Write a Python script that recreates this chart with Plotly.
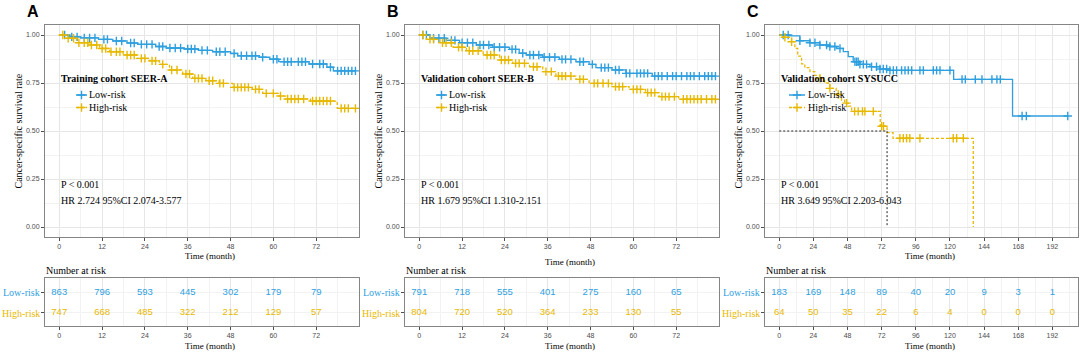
import numpy as np
import plotly.graph_objects as go

W, H = 1084, 353
BLUE = "#2E9FDF"
YELLOW = "#E7B800"
SERIF = "Liberation Serif, Times New Roman, serif"
SANS = "Liberation Sans, Arial, sans-serif"
GRID = "#E6E6E6"
MINOR = "#F2F2F2"
BORDER = "#858585"
TICKC = "#4D4D4D"

# ---------------- data ----------------
panel_letters = ["A", "B", "C"]
cohort_titles = ["Training cohort SEER-A", "Validation cohort SEER-B", "Validation cohort SYSUCC"]
hr_texts = ["HR 2.724 95%CI 2.074-3.577", "HR 1.679 95%CI 1.310-2.151", "HR 3.649 95%CI 2.203-6.043"]
p_texts = ["P < 0.001", "P < 0.001", "P < 0.001"]
group_names = ["Low-risk", "High-risk"]

# Panel A
a_low_t = [0, 3, 6, 11, 15, 19, 22, 27, 30, 35, 39, 43, 48, 50, 56, 59, 61.5, 70, 75, 76.8]
a_low_s = [1.0, 0.99, 0.985, 0.977, 0.969, 0.958, 0.951, 0.94, 0.932, 0.927, 0.92, 0.913, 0.904,
           0.892, 0.884, 0.874, 0.861, 0.849, 0.832, 0.813]
a_low_end = 83.2
a_low_cens = [1.5, 3.5, 5, 7, 8.5, 10, 12.5, 13.5, 16, 17.5, 20, 21, 23, 24.5, 26, 28, 29, 31, 32.5, 34,
              36, 37, 38, 40, 41.5, 44, 45, 46.5, 49, 51, 52.5, 54, 55, 57, 60, 61, 63, 64, 65, 67, 68,
              69, 71, 73, 74, 76, 78, 79, 80, 81, 82, 83]
a_high_t = [0, 2, 4.8, 8.6, 11.3, 14.1, 17.9, 21.6, 25.3, 28.1, 30.9, 34.6, 37.4, 41.1, 44.8, 48.6,
            54.1, 57, 61.6, 63.5, 70.4, 77.9]
a_high_s = [1.0, 0.983, 0.96, 0.948, 0.93, 0.913, 0.896, 0.878, 0.865, 0.847, 0.818, 0.797, 0.774,
            0.762, 0.748, 0.727, 0.717, 0.696, 0.682, 0.667, 0.656, 0.618]
a_high_end = 83.2
a_high_cens = [1, 2.5, 4, 5.5, 7, 8, 9, 10.5, 12, 13, 14.5, 16, 17, 19, 20, 21, 23, 24, 26, 27, 29,
               31.5, 33, 35.5, 36.5, 38, 39, 40, 42, 43, 45, 46, 49, 50, 51, 52, 53, 55, 56, 58, 60,
               62, 64, 65, 66, 67, 68.5, 71, 72, 73, 74, 75, 76, 79, 80, 81, 83]
a_low_risk = [863, 796, 593, 445, 302, 179, 79]
a_high_risk = [747, 668, 485, 322, 212, 129, 57]
a_ticks = [0, 12, 24, 36, 48, 60, 72]

# Panel B
b_low_t = [0, 3, 7.6, 11.3, 16, 20.6, 25.3, 28, 30, 34.6, 39.3, 43.9, 47.6, 49.5, 54, 57.9, 65.3]
b_low_s = [1.0, 0.983, 0.972, 0.96, 0.948, 0.936, 0.925, 0.905, 0.896, 0.884, 0.873, 0.861, 0.847,
           0.83, 0.818, 0.80, 0.786]
b_low_end = 83.2
b_low_cens = [1, 2, 4, 5.5, 7, 9, 10, 12, 13.5, 15, 17, 18, 19.5, 21, 22.5, 24, 26, 27, 29, 31, 32,
              33.5, 35, 36.5, 38, 40, 41, 42.5, 45, 46, 48.5, 51, 52, 53, 55, 56, 58, 59, 61, 62, 63,
              64, 66, 67, 68, 69.5, 71, 72, 73.5, 75, 76, 77, 78.5, 80, 81, 82, 83]
b_high_t = [0, 2, 5.8, 9.5, 13.2, 17.9, 22.5, 26.2, 30.9, 34.6, 38.3, 43.9, 47.6, 54, 58.8, 63.4,
            67.2, 72.7]
b_high_s = [1.0, 0.977, 0.96, 0.936, 0.918, 0.896, 0.87, 0.852, 0.835, 0.809, 0.786, 0.769, 0.748,
            0.731, 0.717, 0.70, 0.679, 0.665]
b_high_end = 83.2
b_high_cens = [1, 3, 4, 6.5, 7.5, 9, 11, 12, 14, 15, 16.5, 19, 20, 21, 23, 24, 25, 27, 28, 29.5, 32,
               33, 35.5, 37, 39, 40, 41, 42.5, 45, 46, 49, 50, 51.5, 53, 55, 56, 57, 60, 61, 62, 64,
               65, 66, 68, 69, 70, 71.5, 74, 75, 76, 77, 78, 79, 80.5, 82, 83]
b_low_risk = [791, 718, 555, 401, 275, 160, 65]
b_high_risk = [804, 720, 520, 364, 233, 130, 55]
b_ticks = [0, 12, 24, 36, 48, 60, 72]

# Panel C
c_low_t = [0, 7.5, 14.5, 21.6, 28.6, 35.6, 40.3, 45, 48.5, 52, 56.7, 63.75, 70.8, 77.8, 122.6, 164]
c_low_s = [1.0, 0.995, 0.97, 0.96, 0.948, 0.94, 0.93, 0.913, 0.887, 0.861, 0.847, 0.835, 0.823,
           0.816, 0.769, 0.578]
c_low_end = 202.8
c_low_cens = [2.8, 6.3, 14.5, 21.6, 25.1, 28.6, 33.3, 35.6, 39.1, 42.7, 53.2, 54.4, 55.5, 56.7, 59.1,
              61.4, 64.9, 68.4, 70.8, 73.1, 75.5, 77.8, 80.2, 82.5, 86, 88.4, 90.7, 93.1, 98.9, 101.3,
              108.3, 110.6, 113, 120, 128.5, 130.8, 137.8, 142.5, 149.5, 153, 155.4, 170.7, 173.7,
              202.8]
c_high_t = [0, 2.8, 8.7, 11, 13, 15.7, 18, 21.6, 25, 28.6, 32, 35.6, 40, 43.8, 46, 48.5, 50.9, 71,
            75.8, 80, 136.4]
c_high_s = [1.0, 0.988, 0.965, 0.93, 0.89, 0.85, 0.83, 0.809, 0.79, 0.774, 0.75, 0.722, 0.69, 0.661,
            0.645, 0.63, 0.602, 0.525, 0.492, 0.462, 0.0]
c_high_end = 136.4
c_high_cens = [4, 8.7, 28.6, 35.6, 41.5, 47.3, 53, 55.5, 58.5, 60.2, 66.1, 72, 73.3, 84.8, 87.2,
               89.5, 91.8, 98.9, 122.3, 124.7, 129.4]
c_low_risk = [183, 169, 148, 89, 40, 20, 9, 3, 1]
c_high_risk = [64, 50, 35, 22, 6, 4, 0, 0, 0]
c_ticks = [0, 24, 48, 72, 96, 120, 144, 168, 192]

panels = [
    dict(low=(a_low_t, a_low_s, a_low_end, a_low_cens), high=(a_high_t, a_high_s, a_high_end, a_high_cens),
         risk=(a_low_risk, a_high_risk), ticks=a_ticks, xr=[-4, 84], left=45, right=359, median=False,
         minor=6, leg_line=(76, 87), leg_text=88, tx=60, xt_y=256),
    dict(low=(b_low_t, b_low_s, b_low_end, b_low_cens), high=(b_high_t, b_high_s, b_high_end, b_high_cens),
         risk=(b_low_risk, b_high_risk), ticks=b_ticks, xr=[-4, 84], left=405, right=719, median=False,
         minor=6, leg_line=(436, 447), leg_text=448, tx=420, xt_y=262),
    dict(low=(c_low_t, c_low_s, c_low_end, c_low_cens), high=(c_high_t, c_high_s, c_high_end, c_high_cens),
         risk=(c_low_risk, c_high_risk), ticks=c_ticks, xr=[-10, 210], left=765, right=1078, median=True,
         minor=12, leg_line=(789, 805), leg_text=807, tx=780, xt_y=256),
]

# ---------------- layout geometry (pixels) ----------------
KM_TOP, KM_BOT = 25.4, 236.6
TB_TOP, TB_BOT = 278.0, 326.0
YR = [-0.05, 1.05]
TB_YR = [-0.635, 1.707]


def px2paper_x(px):
    return px / W


def px2paper_y(py):
    return 1 - py / H


def step_at(times, surv, t):
    idx = np.searchsorted(np.asarray(times), np.asarray(t), side="right") - 1
    return np.asarray(surv)[idx]


fig = go.Figure()
annotations = []
layout_axes = {}

for i, p in enumerate(panels):
    k = i + 1
    xa = "x" if k == 1 else f"x{k}"
    ya = "y" if k == 1 else f"y{k}"
    tk = k + 3
    txa, tya = f"x{tk}", f"y{tk}"
    xr = p["xr"]
    left, right = p["left"], p["right"]
    scale = (right - left) / (xr[1] - xr[0])

    def px_to_x(px, left=left, xr=xr, scale=scale):
        return xr[0] + (px - left) / scale

    def py_to_y(py):
        return YR[1] - (py - KM_TOP) / (KM_BOT - KM_TOP) * (YR[1] - YR[0])

    for g, color, dash in [("low", BLUE, "solid"), ("high", YELLOW, "3px,2px")]:
        t, s, end, cens = p[g]
        xs = list(t) + ([end] if end > t[-1] else [])
        ys = list(s) + ([s[-1]] if end > t[-1] else [])
        fig.add_trace(go.Scatter(x=xs, y=ys, mode="lines", line=dict(color=color, width=1.3, dash=dash, shape="hv"),
                                 xaxis=xa, yaxis=ya, showlegend=False, hoverinfo="skip"))
        cy = step_at(t, s, cens)
        fig.add_trace(go.Scatter(x=cens, y=cy, mode="markers",
                                 marker=dict(symbol="cross-thin", size=6, line=dict(color=color, width=1.4)),
                                 xaxis=xa, yaxis=ya, showlegend=False, hoverinfo="skip"))

    if p["median"]:
        t, s, end, cens = p["high"]
        med = [tt for tt, ss in zip(t, s) if ss <= 0.5][0]
        fig.add_trace(go.Scatter(x=[0, med, med], y=[0.5, 0.5, 0], mode="lines",
                                 line=dict(color="#222222", width=1, dash="2px,2px"),
                                 xaxis=xa, yaxis=ya, showlegend=False, hoverinfo="skip"))

    # legend glyphs
    l0, l1 = p["leg_line"]
    for j, (color, dash) in enumerate([(BLUE, "solid"), (YELLOW, "3px,2px")]):
        py = [95, 107.5][j]
        fig.add_trace(go.Scatter(x=[px_to_x(l0), px_to_x(l1)], y=[py_to_y(py)] * 2, mode="lines",
                                 line=dict(color=color, width=1.3, dash=dash), xaxis=xa, yaxis=ya,
                                 showlegend=False, hoverinfo="skip"))
        fig.add_trace(go.Scatter(x=[px_to_x((l0 + l1) / 2)], y=[py_to_y(py)], mode="markers",
                                 marker=dict(symbol="cross-thin", size=6, line=dict(color=color, width=1.4)),
                                 xaxis=xa, yaxis=ya, showlegend=False, hoverinfo="skip"))
        annotations.append(dict(text=group_names[j], x=px2paper_x(p["leg_text"]), y=px2paper_y(py),
                                xref="paper", yref="paper", xanchor="left", yanchor="middle", showarrow=False,
                                font=dict(family=SERIF, size=10, color="#000")))

    # risk table numbers
    low_r, high_r = p["risk"]
    fig.add_trace(go.Scatter(x=p["ticks"], y=[1] * len(low_r), mode="text", text=[str(v) for v in low_r],
                             textfont=dict(family=SANS, size=9.5, color=BLUE), xaxis=txa, yaxis=tya,
                             showlegend=False, hoverinfo="skip"))
    fig.add_trace(go.Scatter(x=p["ticks"], y=[0] * len(high_r), mode="text", text=[str(v) for v in high_r],
                             textfont=dict(family=SANS, size=9.5, color=YELLOW), xaxis=txa, yaxis=tya,
                             showlegend=False, hoverinfo="skip"))

    common_x = dict(range=xr, tickvals=p["ticks"], ticks="outside", ticklen=3, tickcolor=TICKC,
                    tickfont=dict(family=SANS, size=7, color=TICKC), showline=True, mirror=True,
                    linecolor=BORDER, linewidth=1, showgrid=True, gridcolor=GRID, gridwidth=1,
                    zeroline=False, fixedrange=True,
                    minor=dict(showgrid=True, gridcolor=MINOR, dtick=p["minor"], tick0=0),
                    domain=[px2paper_x(left), px2paper_x(right)])
    layout_axes["xaxis" if k == 1 else f"xaxis{k}"] = dict(common_x, anchor=ya)
    layout_axes["yaxis" if k == 1 else f"yaxis{k}"] = dict(
        range=YR, tickvals=[0, 0.25, 0.5, 0.75, 1.0], ticktext=["0.00", "0.25", "0.50", "0.75", "1.00"],
        ticks="outside", ticklen=3, tickcolor=TICKC, tickfont=dict(family=SANS, size=7, color=TICKC),
        showline=True, mirror=True, linecolor=BORDER, linewidth=1, showgrid=True, gridcolor=GRID,
        zeroline=False, fixedrange=True, minor=dict(showgrid=True, gridcolor=MINOR, dtick=0.125, tick0=0),
        domain=[px2paper_y(KM_BOT), px2paper_y(KM_TOP)], anchor=xa)
    layout_axes[f"xaxis{tk}"] = dict(common_x, anchor=tya)
    layout_axes[f"yaxis{tk}"] = dict(
        range=TB_YR, tickvals=[0, 1], showticklabels=False, ticks="outside", ticklen=3, tickcolor=TICKC,
        showline=True, mirror=True, linecolor=BORDER, linewidth=1, showgrid=True, gridcolor=MINOR,
        zeroline=False, fixedrange=True, domain=[px2paper_y(TB_BOT), px2paper_y(TB_TOP)], anchor=txa)

    off = left - 45
    # text annotations
    annotations += [
        dict(text=f"<b>{panel_letters[i]}</b>", x=px2paper_x(33 + off), y=px2paper_y(11.5),
             font=dict(family=SANS, size=16, color="#000")),
        dict(text=f"<b>{cohort_titles[i]}</b>", x=px2paper_x(p["tx"]), y=px2paper_y(78), xanchor="left",
             font=dict(family=SERIF, size=10, color="#000")),
        dict(text=p_texts[i], x=px2paper_x(p["tx"]), y=px2paper_y(184.5), xanchor="left",
             font=dict(family=SERIF, size=10, color="#000")),
        dict(text=hr_texts[i], x=px2paper_x(p["tx"]), y=px2paper_y(200), xanchor="left",
             font=dict(family=SERIF, size=10, color="#000")),
        dict(text="Cancer-specific survival rate", x=px2paper_x(17.5 + off), y=px2paper_y(131), textangle=-90,
             font=dict(family=SERIF, size=10, color="#000")),
        dict(text="Time (month)", x=px2paper_x(210 + off), y=px2paper_y(p["xt_y"]),
             font=dict(family=SERIF, size=9, color="#000")),
        dict(text="Time (month)", x=px2paper_x(210 + off), y=px2paper_y(345.5),
             font=dict(family=SERIF, size=9, color="#000")),
        dict(text="Number at risk", x=px2paper_x(45 + off), y=px2paper_y(270.5), xanchor="left",
             font=dict(family=SERIF, size=10, color="#000")),
        dict(text="Low-risk", x=px2paper_x(41 + off), y=px2paper_y(292.5), xanchor="right",
             font=dict(family=SERIF, size=10, color=BLUE)),
        dict(text="High-risk", x=px2paper_x(41 + off), y=px2paper_y(313), xanchor="right",
             font=dict(family=SERIF, size=10, color=YELLOW)),
    ]

for a in annotations:
    a.setdefault("xref", "paper")
    a.setdefault("yref", "paper")
    a.setdefault("showarrow", False)
    a.setdefault("xanchor", "center")
    a.setdefault("yanchor", "middle")
    a.setdefault("borderpad", 0)

fig.update_layout(width=W, height=H, autosize=False, margin=dict(l=0, r=0, t=0, b=0, pad=0),
                  paper_bgcolor="white", plot_bgcolor="white", annotations=annotations, **layout_axes)

fig.write_html("out.html", config={"displayModeBar": False},
               post_script="document.body.style.margin='0';document.body.style.padding='0';"
                           "document.documentElement.style.overflow='hidden';")
